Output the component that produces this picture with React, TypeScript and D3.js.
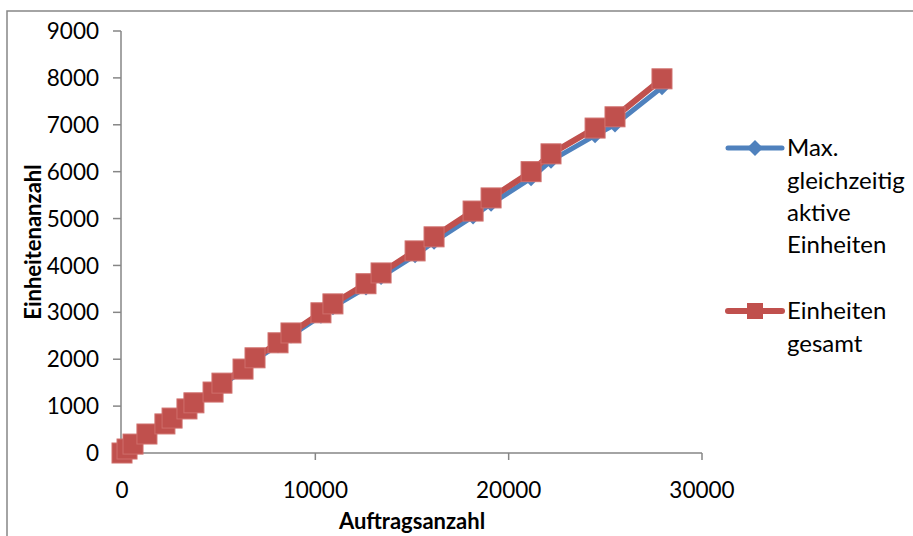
import * as d3 from "d3";

const W = 913;
const H = 536;

// Auftragsanzahl (x) and the two series
const auftraege = [0, 260, 570, 1290, 2220, 2590, 3360, 3720, 4710, 5170, 6260, 6880, 8070, 8740, 10290, 10910, 12620, 13400, 15160, 16140, 18160, 19090, 21160, 22190, 24470, 25500, 27930];
const maxAktiv = [0, 83, 186, 398, 607, 730, 921, 1047, 1273, 1459, 1752, 1987, 2300, 2505, 2925, 3110, 3530, 3755, 4215, 4505, 5045, 5315, 5860, 6235, 6775, 7005, 7800];
const einheitenGesamt = [0, 85, 190, 405, 620, 745, 940, 1070, 1300, 1490, 1790, 2030, 2350, 2560, 2990, 3180, 3610, 3840, 4310, 4610, 5160, 5440, 6000, 6380, 6930, 7170, 7980];

const xTicks = [0, 10000, 20000, 30000];
const yTicks = [0, 1000, 2000, 3000, 4000, 5000, 6000, 7000, 8000, 9000];

const BLUE = "#4F81BD";
const RED = "#C0504D";
const AXIS = "#868686";
const FONT = "Lato, 'Open Sans', sans-serif";

const x = d3.scaleLinear().domain([0, 30000]).range([122, 702]);
const y = d3.scaleLinear().domain([0, 9000]).range([453, 31]);

type Pt = [number, number];
const toPts = (vals: number[]): Pt[] => auftraege.map((a, i) => [a, vals[i]]);

const line = d3
  .line<Pt>()
  .x((d) => x(d[0]))
  .y((d) => y(d[1]));

const diamond = (cx: number, cy: number, r: number) =>
  `M${cx},${cy - r}L${cx + r},${cy}L${cx},${cy + r}L${cx - r},${cy}Z`;

export default function App() {
  const blue = toPts(maxAktiv);
  const red = toPts(einheitenGesamt);
  const sq = 20;

  return (
    <svg
      width={W}
      height={H}
      style={{ position: "absolute", left: 0, top: 0, background: "#fff" }}
      fontFamily={FONT}
    >
      <rect x={7} y={11} width={W + 20} height={H + 20} fill="#fff" stroke={AXIS} strokeWidth={1.5} />

      {/* axes */}
      <line x1={121} x2={121} y1={y(9000)} y2={453} stroke={AXIS} strokeWidth={1.5} />
      <line x1={121} x2={x(30000)} y1={453} y2={453} stroke={AXIS} strokeWidth={1.5} />
      {yTicks.map((t) => (
        <g key={"y" + t}>
          <line x1={113} x2={121} y1={y(t)} y2={y(t)} stroke={AXIS} strokeWidth={1.5} />
          <text x={99} y={y(t)} dy="0.36em" textAnchor="end" fontSize={22.5} fill="#000">
            {t}
          </text>
        </g>
      ))}
      {xTicks.map((t) => (
        <g key={"x" + t}>
          <line x1={x(t)} x2={x(t)} y1={453} y2={460} stroke={AXIS} strokeWidth={1.5} />
          <text x={x(t)} y={490} dy="0.36em" textAnchor="middle" fontSize={22.5} fill="#000">
            {t}
          </text>
        </g>
      ))}

      <text x={412} y={521} dy="0.35em" textAnchor="middle" fontSize={22} fontWeight="bold">
        Auftragsanzahl
      </text>
      <text
        transform={`translate(33,242) rotate(-90)`}
        dy="0.35em"
        textAnchor="middle"
        fontSize={22}
        fontWeight="bold"
      >
        Einheitenanzahl
      </text>

      {/* series */}
      <path d={line(blue) ?? ""} fill="none" stroke={BLUE} strokeWidth={5} strokeLinejoin="round" />
      {blue.map((d, i) => (
        <path key={"b" + i} d={diamond(x(d[0]), y(d[1]), 8)} fill={BLUE} />
      ))}
      <path d={line(red) ?? ""} fill="none" stroke={RED} strokeWidth={6} strokeLinejoin="round" />
      {red.map((d, i) => (
        <rect
          key={"r" + i}
          x={x(d[0]) - sq / 2}
          y={y(d[1]) - sq / 2}
          width={sq}
          height={sq}
          fill={RED}
          stroke="#CF6E6B"
          strokeWidth={1}
        />
      ))}

      {/* legend */}
      <line x1={728} x2={782} y1={148} y2={148} stroke={BLUE} strokeWidth={5} strokeLinecap="round" />
      <path d={diamond(755, 148, 8)} fill={BLUE} />
      {["Max.", "gleichzeitig", "aktive", "Einheiten"].map((s, i) => (
        <text key={s} x={787} y={148 + i * 32.3} dy="0.35em" fontSize={24}>
          {s}
        </text>
      ))}
      <line x1={728} x2={782} y1={311} y2={311} stroke={RED} strokeWidth={6} strokeLinecap="round" />
      <rect x={747} y={303} width={16} height={16} fill={RED} />
      {["Einheiten", "gesamt"].map((s, i) => (
        <text key={s} x={787} y={311 + i * 32.3} dy="0.35em" fontSize={24}>
          {s}
        </text>
      ))}
    </svg>
  );
}
